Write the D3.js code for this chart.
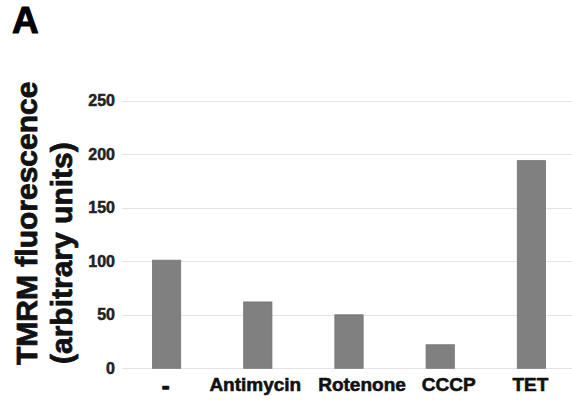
<!DOCTYPE html>
<html lang="en">
<head>
  <meta charset="UTF-8">
  <title>TMRM fluorescence</title>
  <script src="https://d3js.org/d3.v7.min.js"></script>
</head>
<body style="margin: 0; padding: 0; overflow: hidden; background: #fff;">
  <svg id="chart"></svg>

  <script>
    // data
    const categories = ["-", "Antimycin", "Rotenone", "CCCP", "TET"];
    const values = [101, 62, 50, 22, 194];
    const yTicks = [0, 50, 100, 150, 200, 250];
    const yTitleLines = ["TMRM fluorescence", "(arbitrary units)"];

    // the original labels are not quite centred under their bars
    const labelNudge = { "-": -1, "Antimycin": -2.5, "Rotenone": 13, "CCCP": 8.5, "TET": -1 };

    const width = 572, height = 400;
    const font = "'Liberation Sans', Arial, Helvetica, sans-serif";

    const svg = d3.select("#chart")
      .attr("width", width)
      .attr("height", height)
      .style("font-family", font);

    const x = d3.scaleBand()
      .domain(categories)
      .range([121, 577])
      .paddingInner(0.69)
      .paddingOuter(0.345);

    const y = d3.scaleLinear()
      .domain([0, 250])
      .range([368.3, 100.7]);

    // heavier text, like Helvetica Bold in the source
    function heavy(sel, w) {
      sel.attr("font-weight", "bold")
        .attr("stroke", "currentColor")
        .attr("stroke-width", w)
        .attr("stroke-linejoin", "round");
    }

    // grid lines
    svg.append("g")
      .selectAll("line")
      .data(yTicks)
      .join("line")
      .attr("x1", 122)
      .attr("x2", width)
      .attr("y1", d => Math.round(y(d)) + 0.5)
      .attr("y2", d => Math.round(y(d)) + 0.5)
      .attr("stroke", "#e3e3e3")
      .attr("stroke-width", 1.2);

    // y tick labels
    const yAxis = d3.axisLeft(y).tickValues(yTicks).tickSize(0).tickPadding(0);
    const gy = svg.append("g")
      .attr("transform", "translate(115,0)")
      .call(yAxis);
    gy.select(".domain").remove();
    gy.selectAll("text")
      .attr("font-family", font)
      .attr("font-size", 16)
      .attr("fill", "#222")
      .style("color", "#222")
      .call(heavy, 0.5);

    // bars
    svg.append("g")
      .selectAll("rect")
      .data(values)
      .join("rect")
      .attr("x", (d, i) => x(categories[i]))
      .attr("width", x.bandwidth())
      .attr("y", d => y(d))
      .attr("height", d => y(0) - y(d))
      .attr("fill", "#808080")
      .attr("stroke", "#747474")
      .attr("stroke-width", 0.8);

    // x labels
    const xAxis = d3.axisBottom(x).tickSize(0).tickPadding(0);
    const gx = svg.append("g")
      .attr("transform", "translate(0,377)")
      .call(xAxis);
    gx.select(".domain").remove();
    gx.selectAll("text")
      .attr("x", d => labelNudge[d])
      .attr("font-family", font)
      .attr("font-size", 19)
      .attr("fill", "#111")
      .style("color", "#111")
      .call(heavy, 0.6);
    gx.selectAll("text")
      .filter(d => d === "-")
      .attr("font-size", 22)
      .attr("stroke-width", 1.4);

    // y title (two lines, start-aligned at the bottom)
    svg.append("g")
      .style("color", "#111")
      .selectAll("text")
      .data(yTitleLines)
      .join("text")
      .attr("transform", (d, i) => `translate(${i === 0 ? 37 : 72},${i === 0 ? 365 : 364}) rotate(-90)`)
      .attr("text-anchor", "start")
      .attr("font-size", 30)
      .attr("fill", "#111")
      .call(heavy, 0.8)
      .text(d => d);

    // panel letter
    svg.append("text")
      .attr("x", 12)
      .attr("y", 33)
      .attr("font-size", 37)
      .attr("fill", "#000")
      .style("color", "#000")
      .call(heavy, 1)
      .text("A");
  </script>
</body>
</html>
